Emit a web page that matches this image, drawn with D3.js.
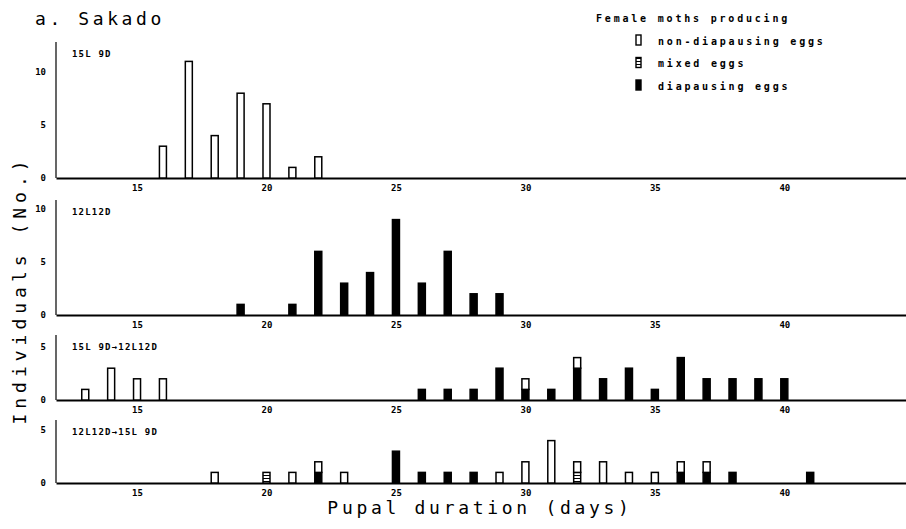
<!DOCTYPE html>
<html>
<head>
<meta charset="utf-8">
<script src="https://cdnjs.cloudflare.com/ajax/libs/d3/7.8.5/d3.min.js"></script>
<style>
  body { margin: 0; background: #fff; }
  svg { display: block; }
  text { font-family: "DejaVu Sans Mono", monospace; fill: #000; }
</style>
</head>
<body>
<div id="chart"></div>
<script>
// counts per pupal duration (days); dia = diapausing, mix = mixed, non = non-diapausing
const p1Days = [16, 17, 18, 19, 20, 21, 22];
const p1Non  = [3, 11, 4, 8, 7, 1, 2];
const p1Mix  = [0, 0, 0, 0, 0, 0, 0];
const p1Dia  = [0, 0, 0, 0, 0, 0, 0];

const p2Days = [19, 21, 22, 23, 24, 25, 26, 27, 28, 29];
const p2Non  = [0, 0, 0, 0, 0, 0, 0, 0, 0, 0];
const p2Mix  = [0, 0, 0, 0, 0, 0, 0, 0, 0, 0];
const p2Dia  = [1, 1, 6, 3, 4, 9, 3, 6, 2, 2];

const p3Days = [13, 14, 15, 16, 26, 27, 28, 29, 30, 31, 32, 33, 34, 35, 36, 37, 38, 39, 40];
const p3Non  = [1, 3, 2, 2, 0, 0, 0, 0, 1, 0, 1, 0, 0, 0, 0, 0, 0, 0, 0];
const p3Mix  = [0, 0, 0, 0, 0, 0, 0, 0, 0, 0, 0, 0, 0, 0, 0, 0, 0, 0, 0];
const p3Dia  = [0, 0, 0, 0, 1, 1, 1, 3, 1, 1, 3, 2, 3, 1, 4, 2, 2, 2, 2];

const p4Days = [18, 20, 21, 22, 23, 25, 26, 27, 28, 29, 30, 31, 32, 33, 34, 35, 36, 37, 38, 41];
const p4Non  = [1, 0, 1, 1, 1, 0, 0, 0, 0, 1, 2, 4, 1, 2, 1, 1, 1, 1, 0, 0];
const p4Mix  = [0, 1, 0, 0, 0, 0, 0, 0, 0, 0, 0, 0, 1, 0, 0, 0, 0, 0, 0, 0];
const p4Dia  = [0, 0, 0, 1, 0, 3, 1, 1, 1, 0, 0, 0, 0, 0, 0, 0, 1, 1, 1, 1];

const xTicks = [15, 20, 25, 30, 35, 40];
const legendLabels = ["non-diapausing eggs", "mixed eggs", "diapausing eggs"];

const panels = [
  {label: "15L 9D",        days: p1Days, non: p1Non, mix: p1Mix, dia: p1Dia, yTicks: [0, 5, 10], top: 42,  base: 178},
  {label: "12L12D",        days: p2Days, non: p2Non, mix: p2Mix, dia: p2Dia, yTicks: [0, 5, 10], top: 200, base: 315},
  {label: "15L 9D\u219212L12D", days: p3Days, non: p3Non, mix: p3Mix, dia: p3Dia, yTicks: [0, 5], top: 335, base: 400},
  {label: "12L12D\u219215L 9D", days: p4Days, non: p4Non, mix: p4Mix, dia: p4Dia, yTicks: [0, 5], top: 420, base: 483}
];

const width = 906, height = 529;
const left = 56, right = 906;
const unitPx = 10.6;
const barW = 7;

const svg = d3.select("#chart").append("svg")
    .attr("width", width)
    .attr("height", height);

// hatched fill for mixed eggs
const defs = svg.append("defs");
const pat = defs.append("pattern")
    .attr("id", "mixpat")
    .attr("patternUnits", "userSpaceOnUse")
    .attr("width", 4).attr("height", 3);
pat.append("rect").attr("width", 4).attr("height", 3).attr("fill", "#fff");
pat.append("line").attr("x1", 0).attr("x2", 4).attr("y1", 1.5).attr("y2", 1.5)
    .attr("stroke", "#000").attr("stroke-width", 1);

const x = d3.scaleLinear().domain([11.87, 44.7]).range([left, right]);

const keys = ["dia", "mix", "non"];
const fills = {dia: "#000", mix: "url(#mixpat)", non: "#fff"};

panels.forEach(function (p) {
  const maxVal = (p.base - p.top) / unitPx;
  const y = d3.scaleLinear().domain([0, maxVal]).range([p.base, p.top]);
  const g = svg.append("g");

  // y axis line
  g.append("line")
      .attr("x1", left).attr("x2", left)
      .attr("y1", p.top).attr("y2", p.base)
      .attr("stroke", "#000").attr("stroke-width", 1.2);

  // x axis (baseline)
  const xa = g.append("g")
      .attr("transform", "translate(0," + p.base + ")")
      .call(d3.axisBottom(x).tickValues(xTicks).tickSize(0).tickPadding(7));
  xa.select(".domain").attr("stroke", "#000").attr("stroke-width", 2);
  xa.selectAll("text")
      .style("font-family", "DejaVu Sans Mono, monospace")
      .style("font-size", "9px").style("font-weight", "bold");

  // y tick labels
  const ya = g.append("g")
      .attr("transform", "translate(" + left + ",0)")
      .call(d3.axisLeft(y).tickValues(p.yTicks).tickFormat(d3.format("d")).tickSize(0).tickPadding(10));
  ya.select(".domain").remove();
  ya.selectAll("text")
      .style("font-family", "DejaVu Sans Mono, monospace")
      .style("font-size", "9px").style("font-weight", "bold");

  // panel label
  g.append("text")
      .attr("x", 72).attr("y", p.top + 15)
      .style("font-size", "9px").style("font-weight", "bold")
      .style("letter-spacing", "1.2px")
      .text(p.label);

  // stacked bars
  const rows = p.days.map(function (d, i) {
    return {day: d, dia: p.dia[i], mix: p.mix[i], non: p.non[i]};
  });
  const series = d3.stack().keys(keys)(rows);
  series.forEach(function (s) {
    g.append("g").selectAll("rect")
        .data(s.filter(d => d[1] > d[0]))
        .join("rect")
        .attr("x", d => x(d.data.day) - barW / 2)
        .attr("y", d => y(d[1]))
        .attr("width", barW)
        .attr("height", d => y(d[0]) - y(d[1]))
        .attr("fill", fills[s.key])
        .attr("stroke", "#000")
        .attr("stroke-width", 1.5);
  });
});

// title
svg.append("text")
    .attr("x", 35).attr("y", 25)
    .style("font-size", "18px")
    .style("letter-spacing", "3.6px")
    .text("a. Sakado");

// axis titles
svg.append("text")
    .attr("transform", "translate(26,290) rotate(-90)")
    .attr("text-anchor", "middle")
    .style("font-size", "18px")
    .style("letter-spacing", "5px")
    .text("Individuals (No.)");

svg.append("text")
    .attr("x", 480).attr("y", 514)
    .attr("text-anchor", "middle")
    .style("font-size", "18px")
    .style("letter-spacing", "3.7px")
    .text("Pupal duration (days)");

// legend
const lg = svg.append("g");
lg.append("text")
    .attr("x", 596).attr("y", 22)
    .style("font-size", "10px").style("font-weight", "bold")
    .style("letter-spacing", "2.8px")
    .text("Female moths producing");

const legKeys = ["non", "mix", "dia"];
legendLabels.forEach(function (lab, i) {
  const cy = 41 + i * 22.5;
  lg.append("rect")
      .attr("x", 636).attr("y", cy - 6)
      .attr("width", 5).attr("height", 10)
      .attr("fill", fills[legKeys[i]])
      .attr("stroke", "#000").attr("stroke-width", 1.4);
  lg.append("text")
      .attr("x", 658).attr("y", cy + 3.5)
      .style("font-size", "10px").style("font-weight", "bold")
      .style("letter-spacing", "2.8px")
      .text(lab);
});
</script>
</body>
</html>
